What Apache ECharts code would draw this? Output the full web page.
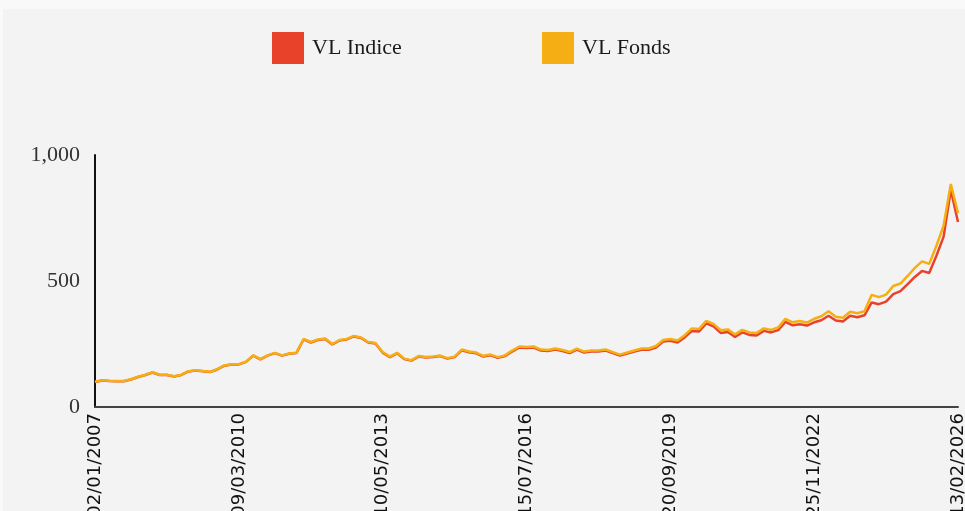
<!DOCTYPE html>
<html>
<head>
<meta charset="utf-8">
<script src="https://cdn.jsdelivr.net/npm/echarts@6/dist/echarts.min.js"></script>
<style>
  html, body { margin: 0; padding: 0; background: #f9f9f9; }
  #chart { position: absolute; left: 3px; top: 9px; width: 962px; height: 502px; background: #f3f3f3; }
</style>
</head>
<body>
<div id="chart"></div>
<script>
// dates shown on the x axis (every 20th point)
const tickDates = ['02/01/2007', '09/03/2010', '10/05/2013', '15/07/2016', '20/09/2019', '25/11/2022', '13/02/2026']
const yTicks = [0, 500, 1000]

// VL Fonds (orange)
const vlFonds = [
  100, 106, 104, 103, 103, 110, 120, 128, 138, 128, 128, 122, 128, 142, 146, 143, 140, 150, 165, 170,
  170, 180, 205, 190, 205, 215, 205, 212, 215, 270, 258, 268, 272, 250, 266, 270, 282, 276, 258, 254,
  218, 200, 215, 192, 186, 202, 198, 200, 204, 194, 200, 228, 220, 216, 203, 208, 198, 205, 224, 240,
  238, 240, 228, 226, 232, 226, 218, 232, 220, 224, 224, 228, 218, 208, 216, 224, 232, 232, 242, 266,
  270, 264, 285, 312, 310, 342, 330, 305, 308, 288, 306, 296, 294, 312, 306, 316, 350, 336, 341, 335,
  350, 360, 380, 358, 354, 378, 372, 380, 445, 436, 446, 480, 490, 520, 552, 578, 568, 640, 720, 885,
  770
]

// VL Indice (red)
const vlIndice = [
  99, 105, 103, 102, 102, 109, 119, 127, 137, 127, 127, 121, 127, 141, 145, 142, 139, 149, 164, 169,
  169, 179, 204, 189, 204, 214, 204, 211, 214, 268, 256, 266, 270, 248, 264, 268, 280, 274, 256, 252,
  216, 198, 213, 190, 184, 200, 196, 198, 202, 192, 198, 225, 217, 213, 200, 205, 195, 202, 220, 236,
  234, 236, 224, 222, 228, 222, 214, 228, 216, 220, 220, 224, 214, 204, 212, 220, 227, 227, 236, 260,
  263, 256, 276, 302, 300, 332, 320, 294, 298, 278, 296, 286, 284, 302, 296, 305, 338, 324, 328, 323,
  336, 344, 362, 343, 339, 362, 356, 364, 415, 408, 418, 448, 460, 488, 516, 540, 532, 600, 676, 861,
  734
]

// category dates between the labelled ticks
const STEP = 20
const parse = s => { const p = s.split('/'); return new Date(+p[2], +p[1] - 1, +p[0]) }
const fmt = d => String(d.getDate()).padStart(2, '0') + '/' + String(d.getMonth() + 1).padStart(2, '0') + '/' + d.getFullYear()
const categories = []
for (let k = 0; k < tickDates.length - 1; k++) {
  const a = parse(tickDates[k]).getTime()
  const b = parse(tickDates[k + 1]).getTime()
  for (let j = 0; j < STEP; j++) {
    categories.push(j === 0 ? tickDates[k] : fmt(new Date(a + (b - a) * j / STEP)))
  }
}
categories.push(tickDates[tickDates.length - 1])

const chart = echarts.init(document.getElementById('chart'))

const serif = "'Liberation Serif', 'DejaVu Serif', serif"

chart.setOption({
  animation: false,
  legend: [
    {
      data: ['VL Indice'],
      left: 264,
      top: 18,
      icon: 'rect',
      itemWidth: 32,
      itemHeight: 32,
      textStyle: { fontFamily: serif, fontSize: 22, color: '#1a1a1a', padding: [0, 0, 0, 3] }
    },
    {
      data: ['VL Fonds'],
      left: 534,
      top: 18,
      icon: 'rect',
      itemWidth: 32,
      itemHeight: 32,
      textStyle: { fontFamily: serif, fontSize: 22, color: '#1a1a1a', padding: [0, 0, 0, 3] }
    }
  ],
  // labels run past the bottom edge on purpose, keep the grid where it is
  grid: { left: 92, right: 7, top: 146, bottom: 104, outerBoundsMode: 'none', containLabel: false },
  tooltip: { trigger: 'axis' },
  xAxis: {
    type: 'category',
    boundaryGap: false,
    data: categories,
    axisLine: { lineStyle: { color: '#444', width: 2 } },
    axisTick: { show: false },
    axisLabel: {
      interval: STEP - 1,
      rotate: 90,
      margin: 6,
      fontFamily: "'DejaVu Sans', sans-serif",
      fontSize: 18,
      color: '#111'
    },
    splitLine: { show: false }
  },
  yAxis: {
    type: 'value',
    min: yTicks[0],
    max: yTicks[yTicks.length - 1],
    interval: yTicks[1] - yTicks[0],
    axisLine: { show: true, lineStyle: { color: '#111', width: 2 } },
    axisTick: { show: false },
    splitLine: { show: false },
    axisLabel: {
      margin: 15,
      fontFamily: serif,
      fontSize: 22,
      color: '#333',
      formatter: v => v.toLocaleString('en-US')
    }
  },
  series: [
    {
      name: 'VL Indice',
      type: 'line',
      data: vlIndice,
      symbol: 'none',
      color: '#e8432a',
      lineStyle: { width: 2.5, color: '#e8432a' }
    },
    {
      name: 'VL Fonds',
      type: 'line',
      data: vlFonds,
      symbol: 'none',
      color: '#f5ae13',
      lineStyle: { width: 2.5, color: '#f5ae13' }
    }
  ]
})

window.addEventListener('resize', () => chart.resize())
</script>
</body>
</html>
